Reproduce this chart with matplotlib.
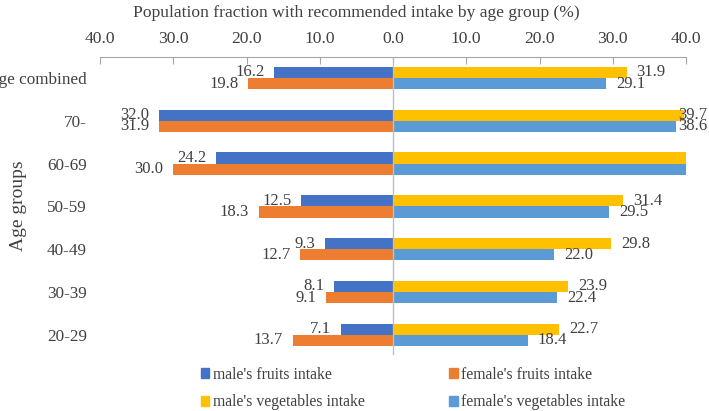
import numpy as np
import matplotlib.pyplot as plt
from matplotlib.patches import Patch

plt.rcParams['font.family'] = ['Liberation Serif', 'DejaVu Serif']

# data (top to bottom as in chart)
groups = ['age combined', '70-', '60-69', '50-59', '40-49', '30-39', '20-29']
male_fruits = [16.2, 32.0, 24.2, 12.5, 9.3, 8.1, 7.1]
female_fruits = [19.8, 31.9, 30.0, 18.3, 12.7, 9.1, 13.7]
male_veg = [31.9, 39.7, 41.2, 31.4, 29.8, 23.9, 22.7]
female_veg = [29.1, 38.6, 40.6, 29.5, 22.0, 22.4, 18.4]
ticks = [-40, -30, -20, -10, 0, 10, 20, 30, 40]

c_mf = '#4472C4'
c_ff = '#ED7D31'
c_mv = '#FFC000'
c_fv = '#5B9BD5'
txt = '#404040'

fig = plt.figure(figsize=(7.09, 4.11), dpi=100)
ax = fig.add_axes([100 / 709, 1 - 355 / 411, 586 / 709, 298 / 411])

pos = np.arange(len(groups))[::-1]
h = 0.26

ax.barh(pos + h / 2, -np.array(male_fruits), height=h, color=c_mf)
ax.barh(pos - h / 2, -np.array(female_fruits), height=h, color=c_ff)
ax.barh(pos + h / 2, male_veg, height=h, color=c_mv)
ax.barh(pos - h / 2, female_veg, height=h, color=c_fv)

ax.set_xlim(-40, 40)
ax.set_ylim(-0.47, 6.49)

labels = []
for p, a, b, c, d in zip(pos, male_fruits, female_fruits, male_veg, female_veg):
    for v, y in [(a, p + h / 2), (b, p - h / 2)]:
        ax.annotate(f'{v:.1f}', xy=(-v, y), xytext=(-7, 0), textcoords='offset points',
                    ha='right', va='center', fontsize=12, color=txt)
    for v, y in [(c, p + h / 2), (d, p - h / 2)]:
        if v > 40:
            continue
        t = ax.annotate(f'{v:.1f}', xy=(v, y), xytext=(7, 0), textcoords='offset points',
                        ha='left', va='center', fontsize=12, color=txt, annotation_clip=False)
        labels.append(t)

# keep right labels inside the figure, like the original
fig.canvas.draw()
r = fig.canvas.get_renderer()
for t in labels:
    bb = t.get_window_extent(r)
    over = bb.x1 - (709 - 2)
    if over > 0:
        t.set_position((7 - over * 72 / 100, 0))

# axes styling
for s in ['left', 'right', 'bottom']:
    ax.spines[s].set_visible(False)
ax.spines['top'].set_color('#A6A6A6')
ax.axvline(0, color='#BFBFBF', lw=1)
ax.xaxis.tick_top()
ax.set_xticks(ticks)
ax.set_xticklabels([f'{abs(t):.1f}' for t in ticks])
ax.tick_params(axis='x', direction='in', length=5, color='#A6A6A6', pad=7.5,
               labelsize=12.6, labelcolor=txt)
ax.set_yticks(pos)
ax.set_yticklabels(groups)
ax.tick_params(axis='y', length=0, pad=9.5, labelsize=12.3, labelcolor=txt)

ax.set_ylabel('Age groups', fontsize=14, color=txt)
ax.yaxis.set_label_coords(-73 / 586, 0.5)

fig.text(0.502, 1 - 13 / 411, 'Population fraction with recommended intake by age group (%)',
         ha='center', va='center', fontsize=12.6, color=txt)

handles = [Patch(color=c_mf), Patch(color=c_mv), Patch(color=c_ff), Patch(color=c_fv)]
names = ["male's fruits intake", "male's vegetables intake",
         "female's fruits intake", "female's vegetables intake"]
fig.legend(handles, names, ncol=2, loc='center', bbox_to_anchor=(0.5825, 1 - 388.5 / 411),
           frameon=False, fontsize=11.3, labelcolor=txt, handlelength=0.55, handleheight=0.55,
           handletextpad=0.2, columnspacing=5.4, labelspacing=0.75)

fig.savefig('out.png', dpi=100)
